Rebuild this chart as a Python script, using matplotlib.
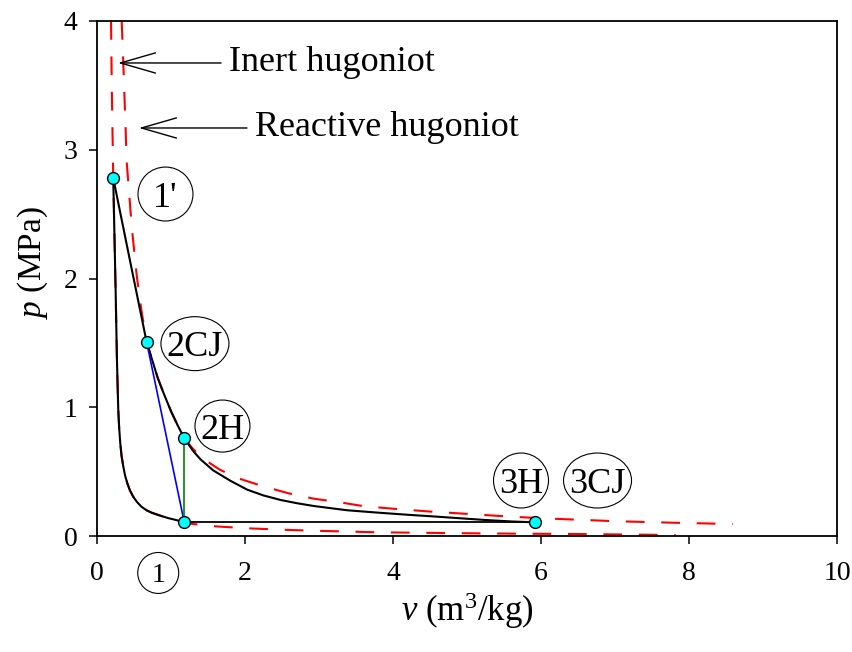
import matplotlib
matplotlib.use("Agg")
import matplotlib.pyplot as plt
from matplotlib.patches import Ellipse

plt.rcParams["font.family"] = ["Liberation Serif", "DejaVu Serif"]
plt.rcParams["mathtext.fontset"] = "custom"
plt.rcParams["mathtext.rm"] = "Liberation Serif"
plt.rcParams["mathtext.it"] = "Liberation Serif:italic"

# ── data (v in m3/kg, p in MPa) ───────────────────────────────
# steep curve 1' -> 1
comp_v = [0.22, 0.234, 0.253, 0.27, 0.28, 0.288, 0.30, 0.315, 0.333, 0.356,
          0.38, 0.41, 0.445, 0.49, 0.54, 0.60, 0.67, 0.74, 0.82, 0.90,
          0.97, 1.05, 1.12, 1.18]
comp_p = [2.78, 2.40, 1.885, 1.37, 1.15, 0.98, 0.84, 0.72, 0.62, 0.54,
          0.47, 0.41, 0.355, 0.305, 0.265, 0.228, 0.20, 0.181, 0.165, 0.150,
          0.138, 0.127, 0.116, 0.106]

inert_v = [0.19, 0.20] + comp_v + [1.30, 1.60, 2.03, 2.50, 2.93, 3.78,
                                   4.40, 5.05, 5.70, 6.40, 7.10, 7.82]
inert_p = [4.0, 3.5] + comp_p + [0.093, 0.075, 0.060, 0.049, 0.041, 0.029,
                                 0.025, 0.021, 0.018, 0.016, 0.012, 0.008]

# curve 1' -> 2CJ -> 2H -> 3H
exp_v = [0.22, 0.446, 0.67, 0.75, 0.82, 0.90, 1.00, 1.09, 1.18, 1.30,
         1.40, 1.57, 1.80, 2.03, 2.25, 2.48, 2.70, 2.93, 3.38, 3.83,
         4.20, 4.60, 5.23, 5.60, 5.92]
exp_p = [2.78, 2.14, 1.51, 1.36, 1.23, 1.11, 0.97, 0.86, 0.76, 0.66,
         0.595, 0.51, 0.43, 0.36, 0.315, 0.28, 0.255, 0.233, 0.20, 0.18,
         0.165, 0.15, 0.125, 0.113, 0.106]

react_v = [0.334, 0.356, 0.388, 0.40, 0.47, 0.54, 0.60, 0.67, 0.75, 0.82,
           0.90, 1.00, 1.09, 1.18, 1.30, 1.45, 1.66, 1.90, 2.25, 2.60,
           2.93, 3.28, 3.60, 4.00, 4.50, 5.05, 5.60, 6.13, 7.00, 7.80, 8.59]
react_p = [4.0, 3.67, 3.15, 2.92, 2.40, 2.01, 1.755, 1.51, 1.36, 1.23,
           1.11, 0.97, 0.86, 0.76, 0.675, 0.595, 0.515, 0.45, 0.385, 0.33,
           0.29, 0.262, 0.232, 0.212, 0.19, 0.17, 0.15, 0.135, 0.115, 0.103, 0.093]

# states
state_names = ["1'", "2CJ", "2H", "1", "3H"]
state_v = [0.22, 0.67, 1.18, 1.18, 5.92]
state_p = [2.78, 1.51, 0.76, 0.106, 0.106]

x_ticks = [0, 2, 4, 6, 8, 10]
y_ticks = [0, 1, 2, 3, 4]

fig = plt.figure(figsize=(8.52, 6.52), dpi=100)
ax = fig.add_axes([0.1138, 0.1779, 0.8686, 0.7899])

dash = (9, 8)
ax.plot(inert_v, inert_p, color="red", lw=1.5, dashes=dash, zorder=2)
ax.plot(react_v, react_p, color="red", lw=1.5, dashes=dash, zorder=2)

ax.plot(comp_v, comp_p, color="black", lw=1.5, zorder=3)
ax.plot(exp_v, exp_p, color="black", lw=1.5, zorder=3)
ax.plot([state_v[3], state_v[4]], [state_p[3], state_p[4]],
        color="black", lw=1.3, zorder=3)
ax.plot([state_v[1], state_v[3]], [state_p[1], state_p[3]],
        color="blue", lw=1.2, zorder=3)
ax.plot([state_v[2], state_v[3]], [state_p[2], state_p[3]],
        color="green", lw=1.2, zorder=3)

ax.plot(state_v, state_p, ls="none", marker="o", ms=8.5,
        mfc="#00FFFF", mec="black", mew=1, zorder=5)

# ── circled state labels: (text, centre v, centre p, width, height, size)
labels = [
    ("1'", 0.926, 2.656, 0.743, 0.419, 26),
    ("2CJ", 1.324, 1.494, 0.919, 0.419, 26),
    ("2H", 1.696, 0.854, 0.743, 0.404, 26),
    ("3H", 5.730, 0.431, 0.743, 0.427, 26),
    ("3CJ", 6.764, 0.431, 0.919, 0.427, 26),
    ("1", 0.828, -0.287, 0.554, 0.318, 20),
]
for txt, cx, cy, w, h, fs in labels:
    ax.add_patch(Ellipse((cx, cy), w, h, fc="white", ec="black", lw=0.8,
                         zorder=6, clip_on=False))
    ax.text(cx, cy, txt, fontsize=fs, ha="center", va="center_baseline",
            zorder=7, clip_on=False)

# ── hugoniot callouts ────────────────────────────────────────
arrow = dict(arrowstyle="->,head_length=0.97,head_width=0.28", color="black",
             lw=1.0, shrinkA=4, shrinkB=0, relpos=(0, 0.5))
ax.annotate("Inert hugoniot", xy=(0.284, 3.674), xytext=(1.79, 3.674),
            fontsize=26, ha="left", va="center", arrowprops=arrow)
ax.annotate("Reactive hugoniot", xy=(0.568, 3.169), xytext=(2.14, 3.169),
            fontsize=26, ha="left", va="center", arrowprops=arrow)

ax.set_xlim(0, 10)
ax.set_ylim(0, 4)
ax.set_xticks(x_ticks)
ax.set_yticks(y_ticks)
ax.tick_params(direction="out", length=6, width=1.1, labelsize=20)
ax.tick_params(axis="x", pad=12)
ax.tick_params(axis="y", pad=8)
for s in ax.spines.values():
    s.set_linewidth(1.3)

ax.set_xlabel(r"$v$ (m$^3$/kg)", fontsize=25)
ax.set_ylabel(r"$p$ (MPa)", fontsize=24)
ax.xaxis.set_label_coords(0.5, -0.144)
ax.xaxis.label.set_verticalalignment("center")
ax.yaxis.set_label_coords(-0.0866, 0.53)
ax.yaxis.label.set_verticalalignment("center")

fig.savefig("out.png", dpi=100)
